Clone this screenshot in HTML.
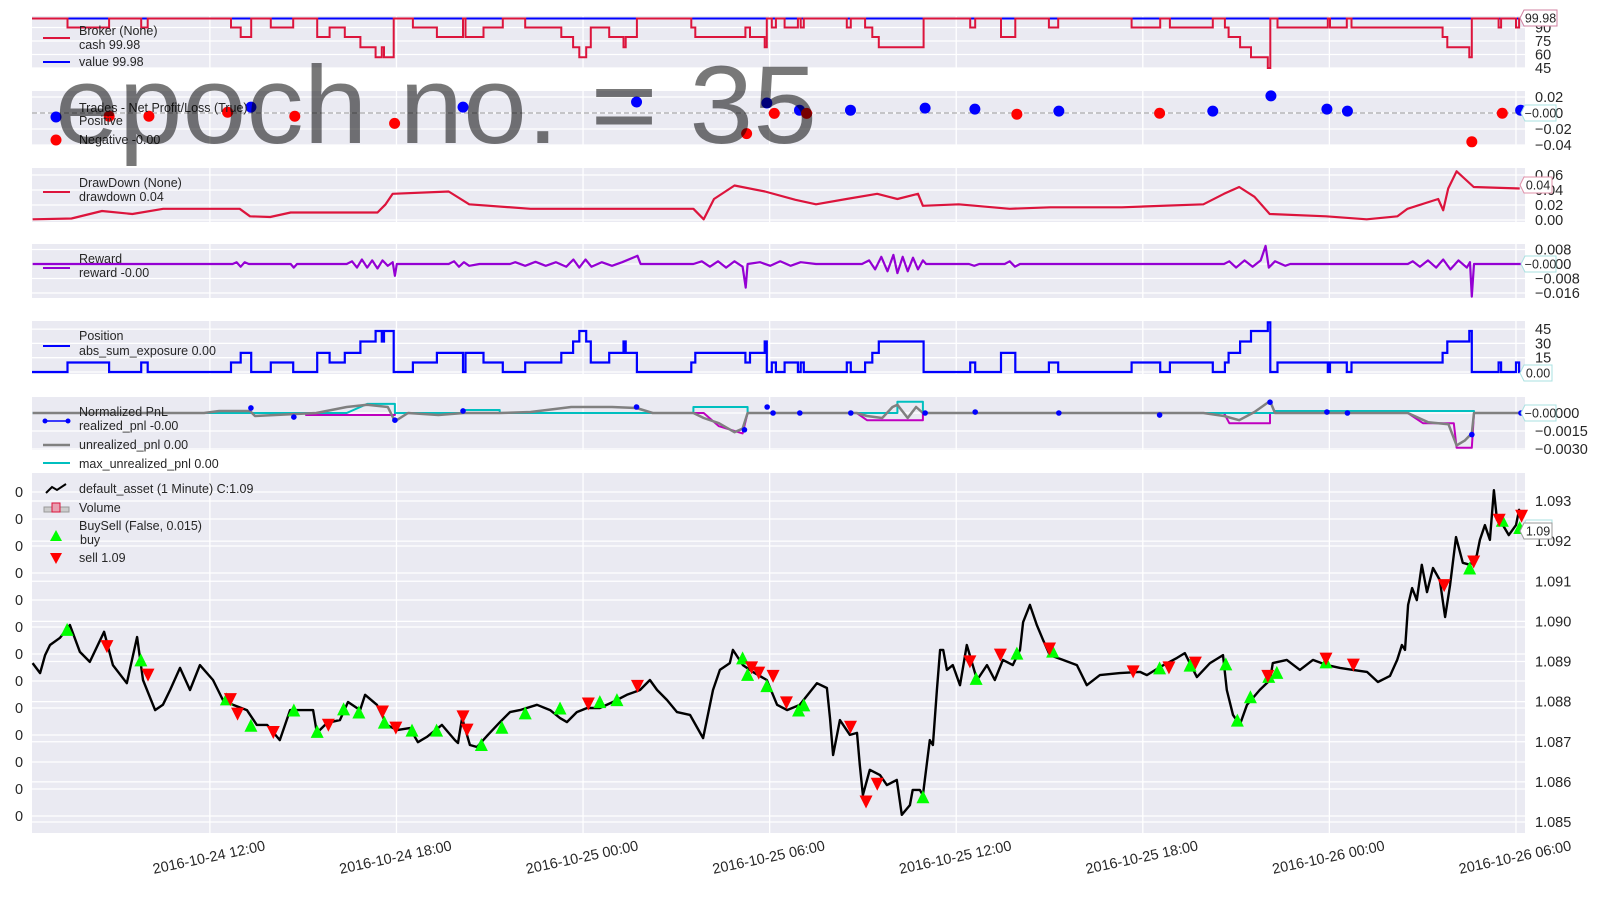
<!DOCTYPE html>
<html><head><meta charset="utf-8"><style>
html,body{margin:0;padding:0;background:#fff;}
svg{display:block;font-family:"Liberation Sans",sans-serif;}
</style></head><body>
<svg id="c" width="1600" height="900" viewBox="0 0 1600 900" xmlns="http://www.w3.org/2000/svg"></svg>
<script>
// ---------- data ----------
const xTickHours=[12,18,24,30,36,42,48,54];
const xTickLabels=["2016-10-24 12:00","2016-10-24 18:00","2016-10-25 00:00","2016-10-25 06:00","2016-10-25 12:00","2016-10-25 18:00","2016-10-26 00:00","2016-10-26 06:00"];

const priceHours=[6.30,6.54,6.70,6.86,7.18,7.50,7.82,8.14,8.60,8.88,9.33,9.66,9.85,10.24,10.49,10.72,11.04,11.36,11.68,12.10,12.42,12.74,13.19,13.51,13.84,14.25,14.58,14.96,15.32,15.44,15.77,16.18,16.44,16.83,16.99,17.37,17.69,18.02,18.43,18.69,18.98,19.46,19.88,19.98,20.11,20.36,20.59,20.94,21.33,21.65,21.97,22.52,22.94,23.26,23.48,23.80,24.13,24.54,24.96,25.41,25.83,26.15,26.38,26.70,27.02,27.44,27.86,28.18,28.40,28.72,28.82,29.14,29.46,29.91,30.24,30.56,30.97,31.52,31.84,31.94,32.04,32.26,32.58,32.81,32.90,33.00,33.22,33.55,33.77,34.09,34.25,34.51,34.60,34.83,34.93,35.15,35.25,35.38,35.48,35.58,35.70,35.89,36.12,36.34,36.67,36.99,37.24,37.50,37.82,38.05,38.15,38.37,38.59,38.79,39.01,39.43,39.88,40.20,40.62,41.26,41.91,42.13,42.55,43.10,43.35,43.74,44.16,44.58,44.70,44.90,45.12,45.35,45.76,46.09,46.18,46.63,47.05,47.47,47.92,48.34,48.76,49.21,49.56,49.95,50.18,50.33,50.43,50.53,50.66,50.81,50.97,51.14,51.33,51.55,51.72,51.88,52.07,52.29,52.52,52.74,52.84,53.00,53.16,53.29,53.39,53.58,53.77,54.00,54.10,54.19];
const priceVals=[1.08896,1.08871,1.08916,1.08941,1.08959,1.08991,1.08924,1.08899,1.08974,1.08891,1.08846,1.08961,1.08854,1.08779,1.08792,1.08829,1.08884,1.08829,1.08891,1.08854,1.08804,1.08792,1.08779,1.08742,1.08742,1.08704,1.08779,1.08779,1.08779,1.08722,1.08747,1.08754,1.08799,1.08779,1.08817,1.08792,1.08742,1.08729,1.08734,1.08699,1.08712,1.08742,1.08704,1.08697,1.08759,1.08692,1.08687,1.08717,1.08749,1.08774,1.08779,1.08792,1.08779,1.08759,1.08749,1.08774,1.08784,1.08784,1.08799,1.08817,1.08829,1.08854,1.08829,1.08804,1.08774,1.08767,1.08709,1.08829,1.08879,1.08896,1.08929,1.08891,1.08874,1.08854,1.08792,1.08779,1.08792,1.08846,1.08834,1.08759,1.08667,1.08754,1.08717,1.08722,1.08642,1.08567,1.08630,1.08617,1.08592,1.08605,1.08518,1.08542,1.08580,1.08580,1.08567,1.08704,1.08692,1.08829,1.08929,1.08929,1.08879,1.08891,1.08841,1.08941,1.08854,1.08891,1.08854,1.08904,1.08891,1.08929,1.08998,1.09041,1.08991,1.08954,1.08916,1.08904,1.08891,1.08841,1.08866,1.08871,1.08874,1.08866,1.08886,1.08909,1.08921,1.08861,1.08896,1.08916,1.08829,1.08767,1.08742,1.08792,1.08829,1.08854,1.08896,1.08904,1.08879,1.08904,1.08891,1.08884,1.08879,1.08874,1.08849,1.08864,1.08904,1.08941,1.08929,1.09041,1.09083,1.09053,1.09141,1.09073,1.09133,1.09103,1.09011,1.09091,1.09210,1.09146,1.09141,1.09165,1.09203,1.09240,1.09203,1.09327,1.09253,1.09240,1.09215,1.09240,1.09278,1.09253];

const buyHours=[7.41,9.78,12.53,13.32,14.70,15.45,16.30,16.79,17.61,18.50,19.29,20.73,21.39,22.14,23.26,24.54,25.09,29.13,29.29,29.91,30.93,31.10,34.93,36.64,37.95,39.10,42.54,43.52,44.67,45.04,45.46,46.05,46.31,47.89,52.51,53.56,54.12];
const buyVals=[1.08980,1.08904,1.08807,1.08741,1.08779,1.08726,1.08782,1.08774,1.08749,1.08729,1.08729,1.08693,1.08736,1.08772,1.08784,1.08800,1.08805,1.08909,1.08868,1.08840,1.08779,1.08792,1.08563,1.08858,1.08921,1.08926,1.08884,1.08891,1.08894,1.08754,1.08812,1.08863,1.08873,1.08899,1.09133,1.09252,1.09234];
const sellHours=[8.69,10.01,12.66,12.89,14.04,15.81,17.55,17.98,20.14,20.27,24.17,25.75,29.42,29.65,30.11,30.54,32.60,33.10,33.46,36.44,37.42,39.00,41.69,42.84,43.69,46.02,47.89,48.77,51.69,52.64,53.46,54.18];
const sellVals=[1.08937,1.08866,1.08805,1.08769,1.08723,1.08741,1.08774,1.08734,1.08762,1.08729,1.08794,1.08838,1.08884,1.08871,1.08863,1.08797,1.08736,1.08550,1.08594,1.08899,1.08916,1.08931,1.08874,1.08884,1.08896,1.08863,1.08906,1.08891,1.09089,1.09148,1.09252,1.09262];
const priceTicks=[1.085,1.086,1.087,1.088,1.089,1.090,1.091,1.092,1.093];

const cashStart=[7.42,9.79,12.68,12.99,13.96,15.45,15.85,16.34,16.84,17.33,17.53,17.60,18.53,19.30,20.22,20.80,22.14,23.30,23.68,23.88,24.10,24.25,24.84,25.30,25.37,27.48,27.61,29.22,29.37,29.84,30.07,30.48,31.00,32.48,33.07,33.30,33.51,36.45,37.44,38.98,41.64,42.87,44.64,44.76,45.13,45.48,46.02,46.33,48.02,48.71,51.64,51.79,52.50,53.44,54.00];
const cashEnd=[8.76,10.00,12.99,13.33,14.68,15.85,16.34,16.84,17.33,17.53,17.60,17.91,19.30,20.14,20.80,21.42,23.30,23.68,23.88,24.10,24.25,24.84,25.30,25.37,25.73,27.61,29.22,29.37,29.84,29.91,30.20,30.91,31.10,32.61,33.30,33.51,34.95,36.61,37.90,39.28,42.56,44.25,44.76,45.13,45.48,46.02,46.10,47.95,48.56,51.64,51.79,52.50,52.58,53.52,54.10];
const cashVals=[90,90,90,79.5,90,79.5,90,79.5,68,57,68,57,90,79.5,79.5,90,90,79.5,68,57,68,90,79.5,68,79.5,90,79.5,90,79.5,68,90,90,90,90,90,79.5,68,90,79.5,90,90,90,90,79.5,68,57,45,90,90,90,79.5,68,57,90,90];
const cashDefault=99.98;
const valueLevel=99.98;
const posVals=[10,10,10,20,10,20,10,20,32,43,32,43,10,20,20,10,10,20,32,43,32,10,20,32,20,10,20,10,20,32,10,10,10,10,10,20,32,10,20,10,10,10,10,20,32,43,52,10,10,10,20,32,43,10,10];

const tradePosHours=[13.32,20.14,25.72,29.91,30.96,32.60,35.00,36.60,39.30,44.25,46.12,47.92,48.58,54.15];
const tradePosVals=[0.0074,0.0074,0.0138,0.0125,0.0035,0.0035,0.0061,0.0049,0.0023,0.0023,0.0214,0.0049,0.0023,0.0035];
const tradeNegHours=[8.76,10.04,12.57,14.73,17.94,29.26,30.15,31.19,37.95,42.54,52.58,53.56];
const tradeNegVals=[-0.0041,-0.0041,0.001,-0.0041,-0.013,-0.0258,-0.0005,-0.0005,-0.0015,-0.0003,-0.036,-0.0003];

const ddHours=[6.30,7.55,8.53,9.51,10.50,12.96,13.29,13.94,14.60,17.39,17.65,17.88,19.68,20.34,22.31,24.93,27.55,27.88,28.21,28.87,29.85,30.83,31.49,32.47,33.46,34.11,34.77,34.93,36.08,37.72,39.03,41.33,43.95,44.61,45.10,45.59,46.08,47.89,49.20,50.19,50.51,51.50,51.66,51.82,52.09,52.64,54.12];
const ddVals=[0.001,0.002,0.012,0.008,0.015,0.015,0.005,0.004,0.010,0.010,0.021,0.035,0.038,0.021,0.015,0.015,0.015,0.001,0.028,0.046,0.038,0.027,0.021,0.028,0.035,0.028,0.035,0.019,0.021,0.015,0.017,0.017,0.021,0.035,0.044,0.031,0.008,0.005,0.001,0.005,0.015,0.028,0.013,0.042,0.065,0.044,0.042];

const rewardHours=[6.30,12.73,12.86,12.99,13.12,13.25,14.60,14.70,14.80,16.40,16.57,16.73,16.89,17.06,17.22,17.39,17.55,17.72,17.88,17.95,18.01,19.68,19.85,20.01,20.17,20.34,20.67,21.65,21.82,22.14,22.47,22.80,23.13,23.46,23.69,23.88,24.08,24.27,24.60,24.93,25.26,25.75,25.85,26.24,27.55,27.82,28.08,28.34,28.60,28.87,29.13,29.23,29.29,29.69,30.02,30.34,30.67,31.00,31.49,32.97,33.20,33.39,33.59,33.79,33.98,34.11,34.28,34.44,34.61,34.77,34.93,35.03,36.41,36.58,36.74,37.56,37.72,37.89,38.05,39.69,44.61,44.78,45.00,45.27,45.53,45.79,45.95,46.05,46.25,46.58,46.74,50.52,50.68,50.91,51.17,51.43,51.66,51.89,52.15,52.42,52.52,52.58,52.65,54.29];
const rewardVals=[0,0,0.001,-0.0015,0.001,0,0,-0.002,0,0,0.0015,-0.002,0.0025,-0.002,0.002,-0.0025,0.002,-0.001,0.001,-0.0065,0,0,0.0015,-0.0015,0.001,-0.001,0,0,0.001,-0.001,0.0012,-0.001,0.001,-0.0015,0.0025,-0.002,0.0025,-0.0015,0.001,-0.001,0.001,0.0045,0,0,0,0.0015,-0.0015,0.0015,-0.002,0.0015,-0.0015,-0.013,0,0.001,-0.001,0.0015,-0.001,0.001,0,0,0.002,-0.003,0.004,-0.004,0.005,-0.005,0.004,-0.004,0.0035,-0.003,0.002,0,0,-0.001,0,0,0.0015,-0.0015,0,0,0,0.0015,-0.002,0.002,-0.0015,0.002,0.01,-0.002,0.0015,-0.001,0,0,0.0015,-0.0015,0.002,-0.002,0.0025,-0.003,0.002,-0.002,0.001,-0.018,0,0];

const unrlHours=[6.30,11.81,12.30,13.29,13.45,15.42,16.40,17.06,17.72,17.95,18.37,19.35,20.17,21.32,22.31,23.62,24.93,25.72,26.24,27.55,27.88,28.37,28.87,29.13,29.29,30.18,32.80,33.13,33.62,33.95,34.11,34.44,34.71,34.93,43.95,44.61,45.10,45.59,46.09,46.25,50.52,51.17,51.83,52.09,52.35,52.58,52.65,54.29];
const unrlVals=[0,0,0.00017,0.00017,-0.00025,0,0.0005,0.00068,0.0005,-0.00069,0,-0.00017,0,0,0.00008,0.0005,0.0005,0.00042,0,0,-0.00042,-0.00085,-0.0016,-0.0013,0,0,0,-0.00025,-0.00042,0.0005,0.00068,-0.00042,0.0005,0,0,-0.00025,-0.0006,0.00008,0.001,0,0,-0.00077,-0.00094,-0.0027,-0.0023,-0.0017,0,0];
const maxHours=[6.30,16.40,17.06,17.95,17.95,20.17,20.17,21.32,21.32,27.55,27.55,29.29,29.29,34.11,34.11,34.93,34.93,46.25,46.25,52.65,52.65,54.29];
const maxVals=[0,0,0.00076,0.00076,0,0,0.00025,0.00025,0,0,0.0005,0.0005,0,0,0.00093,0.00093,0,0,0.00017,0.00017,0,0];
const minHours=[6.30,15.09,15.09,17.95,17.95,27.88,28.37,29.13,29.29,32.80,33.13,34.93,34.93,44.61,44.78,46.09,46.09,50.52,51.01,52.00,52.09,52.58,52.65,54.29];
const minVals=[0,0,-0.00017,-0.00017,0,0,-0.0011,-0.0017,0,0,-0.0006,-0.0006,0,0,-0.00085,-0.00085,0,0,-0.00085,-0.00085,-0.0029,-0.0029,0,0];
const realHours=[13.32,14.70,17.95,20.14,25.72,29.19,29.92,30.11,30.97,32.61,35.00,36.61,39.30,42.54,46.09,47.92,48.58,52.58,54.16];
const realVals=[0.00042,-0.00034,-0.0006,0.00017,0.0005,-0.0014,0.0005,0,0,0,0,0.00008,0,-0.00017,0.0009,0.00008,0,-0.0018,0];

// ---------- helpers ----------
const NS="http://www.w3.org/2000/svg";
const svg=document.getElementById('c');
function el(tag,attrs,parent){const e=document.createElementNS(NS,tag);for(const k in attrs)e.setAttribute(k,attrs[k]);(parent||svg).appendChild(e);return e;}
const X0=32,X1=1525,H0=6.28,H1=54.29;
function xs(h){return X0+(h-H0)*(X1-X0)/(H1-H0);}
function lin(d0,d1,r0,r1){return v=>r0+(v-d0)*(r1-r0)/(d1-d0);}
function fmtMinus(s){return s.replace('-','\u2212');}

const panels={
 broker:{top:16,bot:68,y:lin(45,90,68,27.5),ticks:[45,60,75,90],lab:["45","60","75","90"]},
 trades:{top:91,bot:145,y:lin(0,0.02,113,97),ticks:[0.02,0,-0.02,-0.04],lab:["0.02","0.00","-0.02","-0.04"]},
 dd:{top:168,bot:222,y:lin(0,0.02,220,205),ticks:[0,0.02,0.04,0.06],lab:["0.00","0.02","0.04","0.06"]},
 reward:{top:244,bot:298,y:lin(0,0.008,264,249.5),ticks:[0.008,0,-0.008,-0.016],lab:["0.008","0.000","-0.008","-0.016"]},
 pos:{top:321,bot:374,y:lin(0,15,372,357.7),ticks:[0,15,30,45],lab:["0","15","30","45"]},
 pnl:{top:397,bot:450,y:lin(0,-0.0015,413,431),ticks:[0,-0.0015,-0.003],lab:["0.0000","-0.0015","-0.0030"]},
 main:{top:473,bot:833,y:lin(1.093,1.085,501,822),ticks:priceTicks,lab:priceTicks.map(v=>v.toFixed(3))}
};

for(const k in panels){
 const p=panels[k];
 const g=el('g',{});
 
 
 const bg=el('rect',{x:X0,y:p.top,width:X1-X0,height:p.bot-p.top,fill:'#EAEAF2'},g);
 
 
 xTickHours.forEach(h=>{el('line',{x1:xs(h),x2:xs(h),y1:p.top,y2:p.bot,stroke:'#fff','stroke-width':1.3},g);});
 p.ticks.forEach((v,i)=>{
  const yy=p.y(v);
  el('line',{x1:X0,x2:X1,y1:yy,y2:yy,stroke:'#fff','stroke-width':1.3},g);
  const t=el('text',{x:1535,y:yy+5,'font-size':14.5,fill:'#262626'},g);
  t.textContent=fmtMinus(p.lab[i]);
  
  
 });
}
for(let i=0;i<13;i++){
 const yy=492+27*i;
 el('line',{x1:X0,x2:X1,y1:yy,y2:yy,stroke:'#fff','stroke-width':1.3});
 const t=el('text',{x:15,y:yy+5,'font-size':14.5,fill:'#262626'});
 t.textContent='0';
 
 
}
xTickHours.forEach((h,i)=>{
 const cx=xs(h),cy=862;
 const t=el('text',{x:cx,y:cy,'font-size':14.5,fill:'#262626','text-anchor':'middle',transform:`rotate(-12 ${cx} ${cy})`});
 t.textContent=xTickLabels[i];
 
 
});

function polyline(hours,vals,yf,color,w,name){
 const d=hours.map((h,i)=>(i?'L':'M')+xs(h).toFixed(1)+' '+yf(vals[i]).toFixed(1)).join(' ');
 const p=el('path',{d:d,fill:'none',stroke:color,'stroke-width':w,'stroke-linejoin':'round'});
 
 
 return p;
}
function stepPath(starts,ends,vals,base,yf,color,w,name){
 let d='M'+xs(H0)+' '+yf(base);
 let cur=base;
 for(let i=0;i<starts.length;i++){
  const contiguous=i>0 && Math.abs(starts[i]-ends[i-1])<0.02;
  if(!contiguous){ d+=' L'+xs(starts[i]).toFixed(1)+' '+yf(base).toFixed(1); }
  d+=' L'+xs(starts[i]).toFixed(1)+' '+yf(vals[i]).toFixed(1)+' L'+xs(ends[i]).toFixed(1)+' '+yf(vals[i]).toFixed(1);
  const nextContig=i<starts.length-1 && Math.abs(starts[i+1]-ends[i])<0.02;
  if(!nextContig){ d+=' L'+xs(ends[i]).toFixed(1)+' '+yf(base).toFixed(1); }
 }
 d+=' L'+xs(H1)+' '+yf(base);
 const p=el('path',{d:d,fill:'none',stroke:color,'stroke-width':w,'stroke-linejoin':'miter'});
 
 
}

const bp=panels.broker;
const vl=el('line',{x1:X0,x2:X1,y1:bp.y(valueLevel),y2:bp.y(valueLevel),stroke:'#0000FF','stroke-width':2});


stepPath(cashStart,cashEnd,cashVals,cashDefault,bp.y,'#DC143C',2,'cash-line');

const tp=panels.trades;
el('line',{x1:X0,x2:X1,y1:tp.y(0),y2:tp.y(0),stroke:'#999','stroke-width':1,'stroke-dasharray':'5,3'});
tradePosHours.forEach((h,i)=>{const c=el('circle',{cx:xs(h),cy:tp.y(tradePosVals[i]),r:5.5,fill:'#0000FF'});
 
 });
tradeNegHours.forEach((h,i)=>{const c=el('circle',{cx:xs(h),cy:tp.y(tradeNegVals[i]),r:5.5,fill:'#FF0000'});
 
 });

polyline(ddHours,ddVals,panels.dd.y,'#DC143C',2.2,'drawdown-line');
polyline(rewardHours,rewardVals,panels.reward.y,'#9400D3',2.2,'reward-line');
stepPath(cashStart,cashEnd,posVals,0,panels.pos.y,'#0000FF',2.2,'position-line');
const pp=panels.pnl;
polyline(minHours,minVals,pp.y,'#BF00BF',2,'min-unrealized-pnl-line');
polyline(maxHours,maxVals,pp.y,'#00BFBF',2,'max-unrealized-pnl-line');
polyline(unrlHours,unrlVals,pp.y,'#808080',2.5,'unrealized-pnl-line');
realHours.forEach((h,i)=>{const c=el('circle',{cx:xs(h),cy:pp.y(realVals[i]),r:2.8,fill:'#0000FF'});
 
 });

const mp=panels.main;
polyline(priceHours,priceVals,mp.y,'#000',2.4,'price-line');
function tri(h,v,up,color,name){
 const x=xs(h),y=mp.y(v),s=6.5;
 const pts=up?`${x-s},${y+s} ${x+s},${y+s} ${x},${y-s}`:`${x-s},${y-s} ${x+s},${y-s} ${x},${y+s}`;
 const p=el('polygon',{points:pts,fill:color});
 
 
}
buyHours.forEach((h,i)=>tri(h,buyVals[i],true,'#00FF00','buy-marker'));
sellHours.forEach((h,i)=>tri(h,sellVals[i],false,'#FF0000','sell-marker'));

function ltext(x,y,s,name){const t=el('text',{x:x,y:y,'font-size':12.5,fill:'#262626'});t.textContent=s;
 
 return t;}
function lline(y,color,w){el('line',{x1:43,x2:70,y1:y,y2:y,stroke:color,'stroke-width':w||2});}
ltext(79,35,'Broker (None)','broker-legend-title');ltext(79,49,'cash 99.98','cash-legend-entry');lline(38,'#DC143C');
ltext(79,66,'value 99.98','value-legend-entry');lline(62,'#0000FF');
ltext(79,112,'Trades - Net Profit/Loss (True)','trades-legend-title');ltext(79,125,'Positive','positive-legend-entry');
el('circle',{cx:56,cy:117,r:5.5,fill:'#0000FF'});
ltext(79,144,'Negative -0.00','negative-legend-entry');el('circle',{cx:56,cy:140,r:5.5,fill:'#FF0000'});
ltext(79,187,'DrawDown (None)','drawdown-legend-title');ltext(79,201,'drawdown 0.04','drawdown-legend-entry');lline(192,'#DC143C');
ltext(79,263,'Reward','reward-legend-title');ltext(79,277,'reward -0.00','reward-legend-entry');lline(268,'#9400D3');
ltext(79,340,'Position','position-legend-title');ltext(79,355,'abs_sum_exposure 0.00','position-legend-entry');lline(346,'#0000FF');
ltext(79,416,'Normalized PnL','pnl-legend-title');ltext(79,430,'realized_pnl -0.00','realized-pnl-legend-entry');lline(421,'#0000FF',1.5);
el('circle',{cx:45,cy:421,r:2.5,fill:'#0000FF'});el('circle',{cx:68,cy:421,r:2.5,fill:'#0000FF'});
ltext(79,449,'unrealized_pnl 0.00','unrealized-pnl-legend-entry');lline(445,'#808080',2.5);
ltext(79,468,'max_unrealized_pnl 0.00','max-unrealized-pnl-legend-entry');lline(463,'#00BFBF');
ltext(79,493,'default_asset (1 Minute) C:1.09','price-legend-entry');
el('path',{d:'M46 493 L52 487 L57 490 L66 484',fill:'none',stroke:'#000','stroke-width':2});
ltext(79,512,'Volume','volume-legend-entry');
el('rect',{x:44,y:507,width:25,height:5,fill:'#ccc',stroke:'#999','stroke-width':1});
el('rect',{x:52,y:503,width:8,height:9,fill:'#e8a0b0',stroke:'#DC143C','stroke-width':1});
ltext(79,530,'BuySell (False, 0.015)','buysell-legend-title');ltext(80,544,'buy','buy-legend-entry');
el('polygon',{points:'50,541 62,541 56,530',fill:'#00FF00'});
ltext(79,562,'sell 1.09','sell-legend-entry');el('polygon',{points:'50,553 62,553 56,564',fill:'#FF0000'});

function vbox(x,y,w,s,border,name){
 const g=el('g',{});
 
 
 el('path',{d:`M${x+4} ${y} L${x+w} ${y} L${x+w} ${y+16} L${x+4} ${y+16} L${x} ${y+8} Z`,fill:'#fff',stroke:border,'stroke-width':1},g);
 const t=el('text',{x:x+w/2+2,y:y+12.5,'font-size':12.5,fill:'#262626','text-anchor':'middle'},g);t.textContent=fmtMinus(s);
}
vbox(1520,10,37,'99.98','#d080a0','cash-value-label');
vbox(1521,105,35,'-0.00','#a8e0e0','trades-value-label');
vbox(1520,177,32,'0.04','#e090a8','drawdown-value-label');
vbox(1521,256,35,'-0.00','#a8e0e0','reward-value-label');
vbox(1520,365,32,'0.00','#a8e0e0','position-value-label');
vbox(1521,405,35,'-0.00','#a8e0e0','pnl-value-label');
vbox(1522,520,30,'1.09','#a8e0e0','price-value-label-2');
vbox(1520,523,32,'1.09','#999','price-value-label');

const tt=el('text',{x:55,y:143,'font-size':110,fill:'#000','fill-opacity':0.53,textLength:762,lengthAdjust:'spacingAndGlyphs'});
tt.textContent='epoch no. = 35';


</script>
</body></html>
